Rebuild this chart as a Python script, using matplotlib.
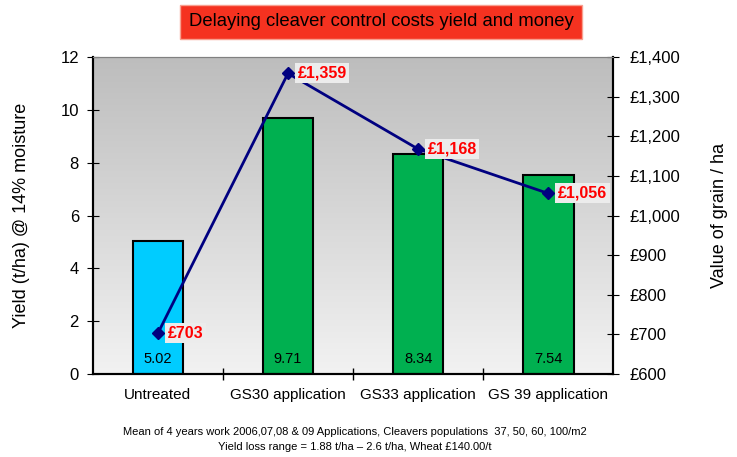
import numpy as np
import matplotlib.pyplot as plt

categories = ['Untreated', 'GS30 application', 'GS33 application', 'GS 39 application']
yield_t = [5.02, 9.71, 8.34, 7.54]
value_gbp = [703, 1359, 1168, 1056]
bar_colors = ['#00ccff', '#00b050', '#00b050', '#00b050']
left_ticks = [0, 2, 4, 6, 8, 10, 12]
right_ticks = [600, 700, 800, 900, 1000, 1100, 1200, 1300, 1400]

plt.rcParams['font.family'] = ['Liberation Sans', 'DejaVu Sans']

fig = plt.figure(figsize=(7.37, 4.57), dpi=100)
ax = fig.add_axes([0.126, 0.1816, 0.706, 0.6934])
ax2 = ax.twinx()

# gradient background
grad = np.linspace(0, 1, 256).reshape(-1, 1)
ax.imshow(grad, cmap=plt.matplotlib.colors.LinearSegmentedColormap.from_list('g', ['#bdbdbd', '#f2f2f2']),
          extent=[0, 1, 0, 1], transform=ax.transAxes, aspect='auto', zorder=0)

x = np.arange(len(categories))
ax.bar(x, yield_t, width=0.39, color=bar_colors, edgecolor='black', linewidth=1.5, zorder=2)
for xi, v in zip(x, yield_t):
    ax.text(xi, 0.55, f'{v:.2f}', ha='center', va='center', fontsize=10.5, zorder=3)

ax.set_xlim(-0.5, len(categories) - 0.5)
ax.set_ylim(0, 12)
ax.set_yticks(left_ticks)
ax.set_xticks(x)
ax.set_xticklabels(categories, fontsize=11)
ax.set_xticks(np.arange(0.5, len(categories) - 1), minor=True)
ax.tick_params(axis='x', which='major', length=0, pad=10)
ax.tick_params(axis='x', which='minor', length=8, direction='inout', width=1)
ax.tick_params(axis='y', direction='inout', length=8, labelsize=12, pad=6)
ax.set_ylabel('Yield (t/ha) @ 14% moisture', fontsize=13, labelpad=22)

ax2.plot(x, value_gbp, color='#000080', linewidth=2, marker='D', markersize=6, zorder=4)
for xi, v in zip(x, value_gbp):
    ax2.annotate(f'£{v:,}', (xi, v), xytext=(7, 0), textcoords='offset points',
                 ha='left', va='center', color='#ff0000', fontweight='bold', fontsize=11.5,
                 bbox=dict(boxstyle='square,pad=0.15', facecolor='#ececec', edgecolor='none'),
                 zorder=5)
ax2.set_ylim(600, 1400)
ax2.set_yticks(right_ticks)
ax2.set_yticklabels([f'£{t:,}' for t in right_ticks])
ax2.tick_params(axis='y', direction='inout', length=8, labelsize=12, pad=8)
ax2.set_ylabel('Value of grain / ha', fontsize=13, labelpad=22)

for a in (ax, ax2):
    for s in ('left', 'right', 'bottom'):
        a.spines[s].set_linewidth(1.5)
    a.spines['top'].set_color('#808080')

fig.text(0.517, 0.952, 'Delaying cleaver control costs yield and money', ha='center', va='center',
         fontsize=13.3,
         bbox=dict(boxstyle='square,pad=0.45', facecolor='#f53220', edgecolor='#f8a090'))

fig.text(0.482, 0.054, 'Mean of 4 years work 2006,07,08 & 09 Applications, Cleavers populations  37, 50, 60, 100/m2',
         ha='center', va='center', fontsize=8)
fig.text(0.482, 0.022, 'Yield loss range = 1.88 t/ha \u2013 2.6 t/ha, Wheat £140.00/t',
         ha='center', va='center', fontsize=8)

fig.savefig('out.png', dpi=100)
